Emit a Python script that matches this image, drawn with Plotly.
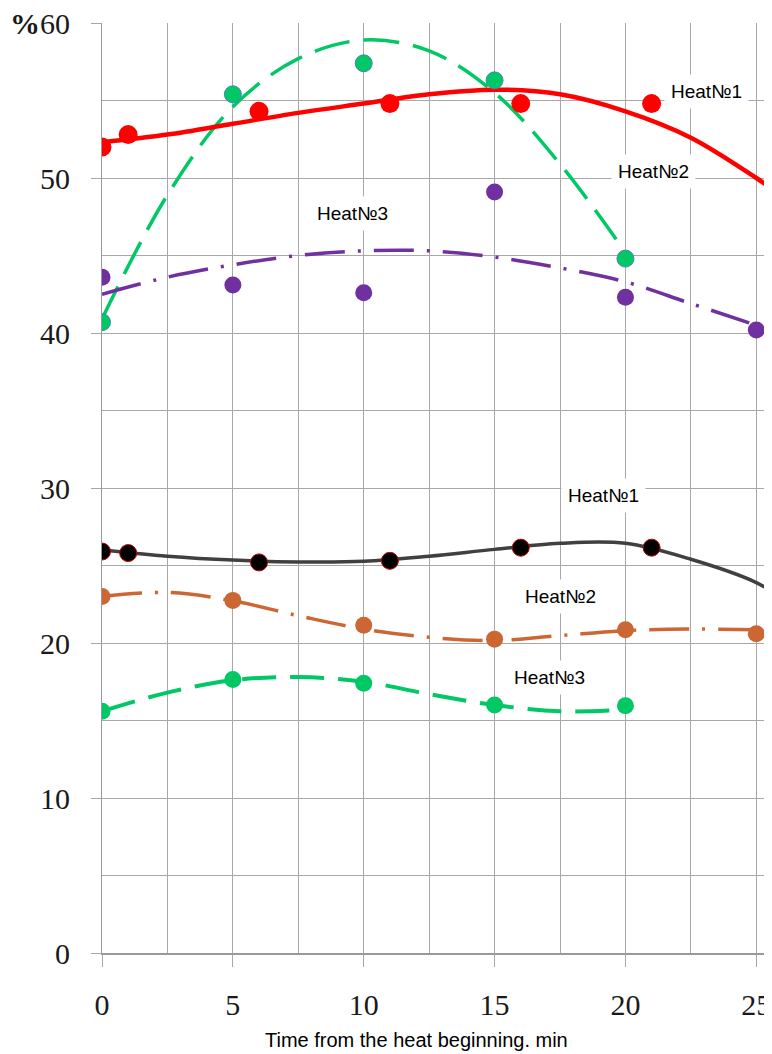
import plotly.graph_objects as go

# ---- measured points (upper group) ----
time_h1 = [0, 1, 6, 11, 16, 21]
heat1_upper = [52.0, 52.8, 54.3, 54.8, 54.8, 54.8]
time_h2u = [0, 5, 10, 15, 20]
heat2_upper = [40.7, 55.4, 57.4, 56.3, 44.8]
time_h3u = [0, 5, 10, 15, 20, 25]
heat3_upper = [43.6, 43.1, 42.6, 49.1, 42.3, 40.2]

# ---- measured points (lower group) ----
heat1_lower = [25.9, 25.8, 25.2, 25.3, 26.15, 26.15]
time_h2l = [0, 5, 10, 15, 20, 25]
heat2_lower = [23.0, 22.75, 21.15, 20.25, 20.85, 20.6]
time_h3l = [0, 5, 10, 15, 20]
heat3_lower = [15.6, 17.65, 17.4, 16.0, 15.95]

# ---- trend curves ----
trend_x_long = [0, 2.5, 5, 7.5, 10, 12.5, 15, 17.5, 20, 22.5, 25, 25.6]
trend_heat1_upper = [52.3, 52.8, 53.5, 54.2, 54.8, 55.4, 55.7, 55.4, 54.3, 52.6, 50.0, 49.3]
trend_heat1_lower = [26.0, 25.6, 25.35, 25.23, 25.27, 25.6, 26.04, 26.43, 26.43, 25.4, 23.9, 23.3]
trend_x_25 = [0, 2.5, 5, 7.5, 10, 12.5, 15, 17.5, 20, 22.5, 25]
trend_heat3_upper = [42.5, 43.6, 44.4, 45.0, 45.3, 45.3, 44.9, 44.2, 43.3, 41.9, 40.5]
trend_heat2_lower = [23.0, 23.26, 22.72, 21.76, 20.9, 20.37, 20.16, 20.48, 20.8, 20.9, 20.86]
trend_x_20 = [0, 2.5, 5, 7.5, 10, 12.5, 15, 17.5, 20]
trend_heat2_upper = [40.9, 48.9, 54.6, 57.7, 58.9, 58.2, 55.5, 50.9, 45.2]
trend_heat3_lower = [15.6, 16.8, 17.6, 17.8, 17.5, 16.7, 16.0, 15.6, 15.7]

# ---- labels ----
labels_text = ["Heat№1", "Heat№2", "Heat№3", "Heat№1", "Heat№2", "Heat№3"]
labels_x = [23.09, 21.07, 9.56, 19.17, 17.52, 17.09]
labels_y = [55.55, 50.39, 47.7, 29.53, 22.97, 17.77]

x_ticks = [0, 5, 10, 15, 20, 25]
y_ticks = [0, 10, 20, 30, 40, 50, 60]
y_ticktext = ["0", "10", "20", "30", "40", "50", "<b>%</b>60"]
x_title = "Time from the heat beginning. min"

RED = "#FF0000"
GREEN = "#00C864"
PURPLE = "#7030A0"
ORANGE = "#CC6633"
BLACK = "#000000"
GRID = "#A8A8A8"

fig = go.Figure()

def trend(x, y, color, width, dash):
    fig.add_trace(go.Scatter(x=x, y=y, mode="lines",
                             line=dict(color=color, width=width, dash=dash,
                                       shape="spline", smoothing=1.0),
                             hoverinfo="skip", showlegend=False))

def pts(x, y, color, size, lc=None, lw=0):
    fig.add_trace(go.Scatter(x=x, y=y, mode="markers",
                             marker=dict(color=color, size=size,
                                         line=dict(color=lc or color, width=lw)),
                             showlegend=False))

trend(trend_x_20, trend_heat2_upper, GREEN, 3.5, "36px,14px")
trend(trend_x_25, trend_heat3_upper, PURPLE, 3.5, "40px,13px,3px,13px")
trend(trend_x_long, trend_heat1_upper, RED, 4.5, "solid")
trend(trend_x_long, trend_heat1_lower, "#404040", 3.5, "solid")
trend(trend_x_25, trend_heat2_lower, ORANGE, 3.5, "40px,13px,3px,13px")
trend(trend_x_20, trend_heat3_lower, GREEN, 4, "34px,14px")

pts(time_h1, heat1_upper, RED, 19)
pts(time_h2u, heat2_upper, GREEN, 17, "#4F81BD", 1)
pts(time_h3u, heat3_upper, PURPLE, 17)
pts(time_h1, heat1_lower, BLACK, 17, "#C00000", 1)
pts(time_h2l, heat2_lower, ORANGE, 17)
pts(time_h3l, heat3_lower, GREEN, 17)

for t, x, y in zip(labels_text, labels_x, labels_y):
    fig.add_annotation(x=x, y=y, text=t, showarrow=False,
                       font=dict(family="Liberation Sans, Arial", size=19, color="#000000"),
                       bgcolor="#FFFFFF", borderpad=6)

fig.add_annotation(xref="paper", yref="paper", x=(416 - 101.5) / 670.5,
                   y=-(1040 - 952.7) / 930.0, yanchor="middle", xanchor="center",
                   text=x_title, showarrow=False,
                   font=dict(family="Liberation Sans, Arial", size=20, color="#000000"))

# page body has an 8px default margin, so the figure is made 8px smaller
fig.update_layout(
    template="none",
    width=764, height=1046,
    margin=dict(l=93.5, r=0, t=14.7, b=101.3, pad=0),
    paper_bgcolor="#FFFFFF", plot_bgcolor="#FFFFFF",
    showlegend=False,
    xaxis=dict(range=[0, 25.6], tickvals=x_ticks, ticktext=[str(v) for v in x_ticks],
               showgrid=True, gridcolor=GRID, gridwidth=1,
               minor=dict(dtick=2.5, tick0=0, showgrid=True, gridcolor=GRID, gridwidth=1, ticks=""),
               ticks="outside", ticklen=12, tickcolor=GRID, tickwidth=1,
               showline=True, linecolor="#999999", linewidth=1.5,
               zeroline=False, automargin=False, ticklabelstandoff=12,
               ticklabeloverflow="allow",
               tickfont=dict(family="Liberation Serif, Times New Roman", size=30, color="#1A1A1A")),
    yaxis=dict(range=[0, 60], tickvals=y_ticks, ticktext=y_ticktext,
               showgrid=True, gridcolor=GRID, gridwidth=1,
               minor=dict(dtick=5, tick0=0, showgrid=True, gridcolor=GRID, gridwidth=1, ticks=""),
               ticks="outside", ticklen=10, tickcolor=GRID, tickwidth=1,
               showline=True, linecolor="#999999", linewidth=1,
               zeroline=False, automargin=False, ticklabelstandoff=15,
               ticklabeloverflow="allow",
               tickfont=dict(family="Liberation Serif, Times New Roman", size=30, color="#1A1A1A")),
)

fig.write_html("out.html")
